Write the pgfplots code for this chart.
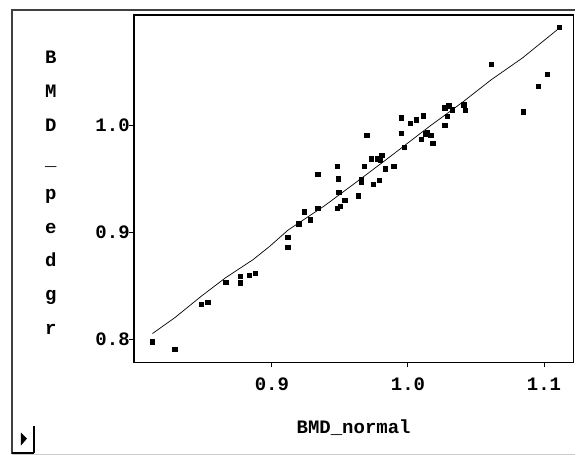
\documentclass[border=0pt]{standalone}
\usepackage{pgfplots}
\pgfplotsset{compat=1.18}
\usepackage{fontspec}
\setmainfont{Liberation Mono}
\begin{document}
\begin{tikzpicture}[x=1pt,y=1pt]
\path (0,0) rectangle (576,455);
% outer frame
\draw[black!75, line width=1.2pt] (12,1) -- (12,445) -- (576,445);
\draw[black!20, line width=1pt] (12,0.5) -- (576,0.5);
% small button bottom-left
\draw[black, line width=1.2pt] (34,2) -- (34,29);
\draw[black, line width=2pt] (12,2) -- (34,2);
\fill[black] (21,22) -- (27,16) -- (21,9) -- cycle;
\begin{axis}[
  at={(134pt,92.3pt)}, anchor=south west,
  scale only axis, width=440pt, height=347.7pt,
  xmin=0.7985, xmax=1.1216, ymin=0.7788, ymax=1.1033,
  xtick={0.9,1.0,1.1}, ytick={0.8,0.9,1.0},
  xticklabels={0.9,1.0,1.1}, yticklabels={0.8,0.9,1.0},
  tick pos=left, tick align=outside, major tick length=5pt,
  tick style={black, line width=1pt},
  axis line style={black, line width=1.4pt},
  every tick label/.append style={font=\fontsize{19}{19}\selectfont\bfseries, inner sep=1pt},
  yticklabel style={xshift=2pt},
  xticklabel style={yshift=-9pt},
  xlabel={BMD\_normal},
  xlabel style={font=\fontsize{19}{19}\selectfont\bfseries, at={(axis description cs:0.5,-0.187)}, anchor=center},
  ylabel={B\\M\\D\\\_\\p\\e\\d\\g\\r},
  ylabel style={font=\fontsize{19}{34}\selectfont\bfseries, align=center, rotate=-90, at={(axis description cs:-0.189,0.488)}, anchor=center},
  clip=false,
]
\addplot[only marks, mark=square*, mark size=2.2pt, black] table {
x y
0.8121 0.7982
0.8284 0.7908
0.8482 0.8332
0.8527 0.8349
0.8659 0.8539
0.8767 0.8591
0.8767 0.8530
0.8834 0.8604
0.8878 0.8623
0.9117 0.8959
0.9117 0.8862
0.9197 0.9083
0.9238 0.9195
0.9282 0.9120
0.9337 0.9229
0.9337 0.9543
0.9480 0.9618
0.9489 0.9503
0.9492 0.9377
0.9535 0.9302
0.9502 0.9244
0.9480 0.9229
0.9634 0.9344
0.9658 0.9498
0.9658 0.9475
0.9676 0.9618
0.9697 0.9910
0.9731 0.9689
0.9775 0.9689
0.9807 0.9722
0.9797 0.9675
0.9831 0.9596
0.9895 0.9618
0.9744 0.9454
0.9788 0.9487
0.9950 1.0075
0.9950 0.9929
0.9971 0.9799
1.0015 1.0021
1.0059 1.0055
1.0114 1.0092
1.0095 0.9873
1.0125 0.9923
1.0140 0.9932
1.0168 0.9909
1.0181 0.9837
1.0269 1.0165
1.0299 1.0187
1.0326 1.0149
1.0288 1.0090
1.0269 1.0002
1.0409 1.0193
1.0421 1.0146
1.0610 1.0571
1.0849 1.0128
1.0959 1.0368
1.1025 1.0478
1.1112 1.0918
};
\addplot[black, line width=0.7pt] table {
x y
0.8122 0.8057
0.8287 0.8206
0.8482 0.8407
0.8658 0.8577
0.8861 0.8747
0.8983 0.8871
0.9117 0.9022
0.9387 0.9251
0.9643 0.9493
0.9864 0.9705
1.0157 0.9991
1.0401 1.0218
1.0610 1.0426
1.0842 1.0632
1.1111 1.0909
};
\end{axis}
\end{tikzpicture}
\end{document}
